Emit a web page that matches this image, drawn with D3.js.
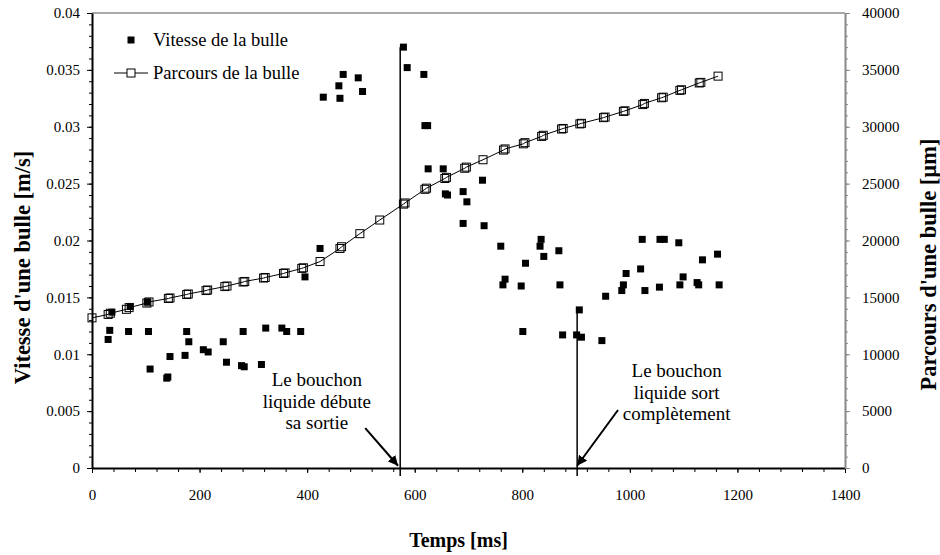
<!DOCTYPE html>
<html>
<head>
<meta charset="utf-8">
<script src="https://cdn.jsdelivr.net/npm/d3@7"></script>
<style>
  body { margin: 0; background: #fff; }
  svg text { font-family: "Liberation Serif", "Times New Roman", serif; fill: #000; }
</style>
</head>
<body>
<div id="chart"></div>
<script>
// Vitesse de la bulle (time in ms, speed in m/s)
const vitesseT = [30, 33, 37, 68, 71, 103, 105, 108, 139, 141, 145, 173, 176, 180, 207, 216, 244, 250, 278, 281, 283, 315, 323, 353, 362, 388, 396, 424, 430, 459, 461, 467, 495, 503, 579, 586, 617, 619, 624, 625, 653, 657, 661, 690, 690, 697, 726, 729, 760, 764, 768, 798, 801, 806, 833, 835, 840, 868, 870, 875, 901, 906, 910, 948, 955, 985, 988, 993, 1020, 1023, 1028, 1055, 1056, 1064, 1091, 1093, 1099, 1125, 1128, 1135, 1163, 1166];
const vitesseV = [0.0113, 0.0121, 0.0137, 0.0120, 0.0142, 0.0146, 0.0120, 0.0087, 0.0079, 0.0080, 0.0098, 0.0099, 0.0120, 0.0111, 0.0104, 0.0102, 0.0111, 0.0093, 0.0090, 0.0120, 0.0089, 0.0091, 0.0123, 0.0123, 0.0120, 0.0120, 0.0168, 0.0193, 0.0326, 0.0336, 0.0325, 0.0346, 0.0343, 0.0331, 0.0370, 0.0352, 0.0346, 0.0301, 0.0301, 0.0263, 0.0263, 0.0241, 0.0240, 0.0243, 0.0215, 0.0234, 0.0253, 0.0213, 0.0195, 0.0161, 0.0166, 0.0160, 0.0120, 0.0180, 0.0195, 0.0201, 0.0186, 0.0191, 0.0161, 0.0117, 0.0117, 0.0139, 0.0115, 0.0112, 0.0151, 0.0156, 0.0161, 0.0171, 0.0175, 0.0201, 0.0156, 0.0159, 0.0201, 0.0201, 0.0198, 0.0161, 0.0168, 0.0163, 0.0161, 0.0183, 0.0188, 0.0161];

// Parcours de la bulle (time in ms, distance in µm)
const parcoursT = [0, 30, 34, 64, 69, 102, 106, 142, 145, 176, 179, 212, 215, 247, 251, 281, 284, 319, 322, 356, 359, 390, 393, 424, 461, 464, 498, 535, 579, 582, 619, 622, 656, 659, 693, 696, 727, 765, 768, 802, 805, 836, 839, 873, 876, 907, 910, 951, 954, 988, 991, 1024, 1027, 1059, 1062, 1093, 1096, 1129, 1132, 1164];
const parcoursD = [13200, 13500, 13600, 13950, 14100, 14500, 14600, 14900, 14950, 15250, 15300, 15600, 15650, 15950, 16000, 16350, 16400, 16700, 16750, 17100, 17150, 17550, 17600, 18150, 19300, 19450, 20600, 21800, 23200, 23300, 24500, 24600, 25450, 25550, 26350, 26450, 27100, 27950, 28050, 28500, 28600, 29150, 29250, 29800, 29850, 30250, 30300, 30800, 30850, 31350, 31400, 31950, 32050, 32550, 32600, 33200, 33250, 33850, 33900, 34450];

// tick labels
const xTicks = [0, 200, 400, 600, 800, 1000, 1200, 1400];
const yTicks = [0, 0.005, 0.01, 0.015, 0.02, 0.025, 0.03, 0.035, 0.04];
const y2Ticks = [0, 5000, 10000, 15000, 20000, 25000, 30000, 35000, 40000];

// the two events: time of the vertical line, top of the line (m/s)
const eventT = [573, 902];
const eventTop = [0.0370, 0.0139];
const eventText = [
  ["Le bouchon", "liquide débute", "sa sortie"],
  ["Le bouchon", "liquide sort", "complètement"]
];

function init() {
  const W = 940, H = 555;
  const margin = { top: 13, right: 95, bottom: 87, left: 92 };
  const width = W - margin.left - margin.right;
  const height = H - margin.top - margin.bottom;

  const svg = d3.select("#chart").append("svg")
      .attr("width", W).attr("height", H);
  const g = svg.append("g")
      .attr("transform", `translate(${margin.left}, ${margin.top})`);

  const x = d3.scaleLinear().domain([0, 1400]).range([0, width]);
  const y = d3.scaleLinear().domain([0, 0.04]).range([height, 0]);
  const y2 = d3.scaleLinear().domain([0, 40000]).range([height, 0]);

  // frame: top in dark grey
  g.append("line").attr("x1", 0).attr("x2", width).attr("y1", 0).attr("y2", 0)
      .attr("stroke", "#555").attr("stroke-width", 1);

  // minor ticks
  g.append("g").attr("transform", `translate(0, ${height})`)
      .call(d3.axisBottom(x).tickValues(d3.range(0, 1401, 40)).tickSize(4).tickFormat(""))
      .call(a => a.select(".domain").remove());
  g.append("g")
      .call(d3.axisLeft(y).tickValues(d3.range(0, 41).map(i => i / 1000)).tickSize(3).tickFormat(""))
      .call(a => a.select(".domain").remove());
  g.append("g").attr("transform", `translate(${width}, 0)`)
      .call(d3.axisRight(y2).tickValues(d3.range(0, 40001, 1000)).tickSize(3).tickFormat(""))
      .call(a => a.select(".domain").remove())
      .selectAll("line").attr("stroke", "#888");

  // main axes
  const xAxis = g.append("g").attr("transform", `translate(0, ${height})`)
      .call(d3.axisBottom(x).tickValues(xTicks).tickSize(5).tickPadding(16).tickSizeOuter(0)
        .tickFormat(d3.format("d")));
  const yAxis = g.append("g")
      .call(d3.axisLeft(y).tickValues(yTicks).tickSize(5).tickPadding(7).tickSizeOuter(0)
        .tickFormat(d => d === 0 ? "0" : String(+d.toFixed(3))));
  const y2Axis = g.append("g").attr("transform", `translate(${width}, 0)`)
      .call(d3.axisRight(y2).tickValues(y2Ticks).tickSize(5).tickPadding(12).tickSizeOuter(0)
        .tickFormat(d3.format("d")));

  [xAxis, yAxis].forEach(a => {
    a.select(".domain").attr("stroke", "#000").attr("stroke-width", 2);
    a.selectAll("line").attr("stroke", "#000");
  });
  y2Axis.select(".domain").attr("stroke", "#888").attr("stroke-width", 2);
  y2Axis.selectAll("line").attr("stroke", "#888");
  [xAxis, yAxis, y2Axis].forEach(a => a.selectAll("text").style("font-size", "15px"));

  // axis titles
  g.append("text")
      .attr("x", width / 2 - 10).attr("y", height + 79)
      .attr("text-anchor", "middle")
      .style("font-size", "20px").style("font-weight", "bold")
      .text("Temps [ms]");
  g.append("text")
      .attr("transform", `translate(${-margin.left + 30}, ${height / 2 + 27}) rotate(-90)`)
      .attr("text-anchor", "middle")
      .style("font-size", "22.5px").style("font-weight", "bold")
      .text("Vitesse d'une bulle [m/s]");
  g.append("text")
      .attr("transform", `translate(${width + 91}, ${height / 2 + 24}) rotate(-90)`)
      .attr("text-anchor", "middle")
      .style("font-size", "22.5px").style("font-weight", "bold")
      .text("Parcours d'une bulle [µm]");

  // vertical event lines
  eventT.forEach((t, i) => {
    g.append("line")
        .attr("x1", x(t)).attr("x2", x(t))
        .attr("y1", y(eventTop[i])).attr("y2", height + 8)
        .attr("stroke", "#000").attr("stroke-width", 1.5);
  });

  // Vitesse points
  const sq = 7;
  g.append("g").selectAll("rect")
      .data(vitesseT)
      .enter().append("rect")
      .attr("x", d => x(d) - sq / 2)
      .attr("y", (d, i) => y(vitesseV[i]) - sq / 2)
      .attr("width", sq).attr("height", sq)
      .attr("fill", "#000");

  // Parcours line + open squares
  const line = d3.line()
      .x(d => x(d))
      .y((d, i) => y2(parcoursD[i]));
  g.append("path")
      .datum(parcoursT)
      .attr("d", line)
      .attr("fill", "none")
      .attr("stroke", "#000")
      .attr("stroke-width", 1);

  const osq = 8;
  g.append("g").selectAll("rect")
      .data(parcoursT)
      .enter().append("rect")
      .attr("x", d => x(d) - osq / 2)
      .attr("y", (d, i) => y2(parcoursD[i]) - osq / 2)
      .attr("width", osq).attr("height", osq)
      .attr("fill", "none")
      .attr("stroke", "#000")
      .attr("stroke-width", 1);

  // annotations: text centre (t, v) and arrow tail/tip in data units
  const notePos = [[418, 0.0077], [1087, 0.0085]];
  const arrowFrom = [[508, 0.0035], [978, 0.0051]];
  const arrowTo = [[569, 0.0002], [902, 0.0002]];

  svg.append("defs").append("marker")
      .attr("id", "head")
      .attr("viewBox", "0 0 10 10")
      .attr("refX", 10).attr("refY", 5)
      .attr("markerWidth", 10).attr("markerHeight", 10)
      .attr("markerUnits", "userSpaceOnUse")
      .attr("orient", "auto")
      .append("path").attr("d", "M0,0 L10,5 L0,10 z").attr("fill", "#000");

  eventText.forEach((lines, i) => {
    const t = g.append("text")
        .attr("text-anchor", "middle")
        .style("font-size", "19px");
    lines.forEach((s, j) => {
      t.append("tspan")
          .attr("x", x(notePos[i][0]))
          .attr("y", y(notePos[i][1]) + 6 + j * 21.5)
          .text(s);
    });
    g.append("line")
        .attr("x1", x(arrowFrom[i][0])).attr("y1", y(arrowFrom[i][1]))
        .attr("x2", x(arrowTo[i][0])).attr("y2", y(arrowTo[i][1]))
        .attr("stroke", "#000").attr("stroke-width", 2)
        .attr("marker-end", "url(#head)");
  });

  // legend
  const legend = g.append("g").attr("transform", "translate(39, 27)");
  legend.append("rect")
      .attr("x", -3.5).attr("y", -3.5).attr("width", 7).attr("height", 7)
      .attr("fill", "#000");
  legend.append("text").attr("x", 22).attr("y", 6)
      .style("font-size", "18.5px").text("Vitesse de la bulle");
  legend.append("line").attr("x1", -17).attr("x2", 17).attr("y1", 33).attr("y2", 33)
      .attr("stroke", "#000");
  legend.append("rect")
      .attr("x", -4).attr("y", 29).attr("width", 8).attr("height", 8)
      .attr("fill", "#fff").attr("stroke", "#000");
  legend.append("text").attr("x", 22).attr("y", 39)
      .style("font-size", "18.5px").text("Parcours de la bulle");
}
window.onload = init;
</script>
</body>
</html>
